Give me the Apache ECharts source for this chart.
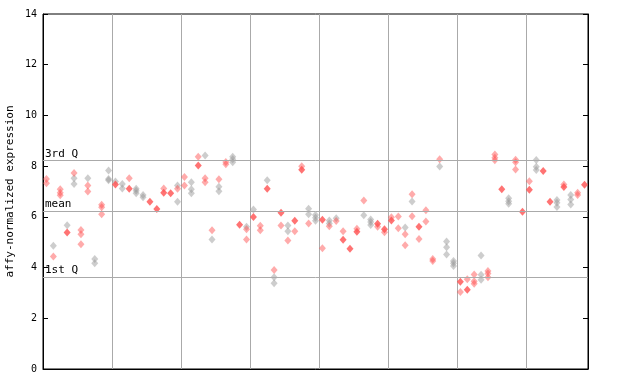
<!DOCTYPE html>
<html><head><meta charset="utf-8">
<script src="https://cdn.jsdelivr.net/npm/echarts@6/dist/echarts.min.js"></script>
<style>html,body{margin:0;padding:0;background:#fff}#c{width:640px;height:384px}</style>
</head><body><div id="c"></div>
<script>
// [sample column index, expression value]
var redPts = [
[0,7.49],[0,7.33],[1,4.44],[2,7.09],[2,6.95],[2,6.85],[4,7.73],[5,5.48],[5,5.31],[5,4.92],
[6,7.24],[6,7.0],[8,6.48],[8,6.38],[8,6.10],[12,7.52],[17,7.12],[19,7.11],[20,7.57],[20,7.24],
[22,8.37],[23,7.52],[23,7.36],[24,5.47],[25,7.48],[26,8.16],[26,8.07],[29,5.51],[29,5.11],[31,5.65],
[31,5.47],[33,3.90],[34,5.66],[35,5.07],[36,5.43],[37,8.0],[38,5.74],[40,4.76],[41,5.63],[42,5.84],
[43,5.43],[45,5.53],[46,6.65],[48,5.61],[49,5.39],[50,5.98],[51,6.01],[51,5.55],[52,5.31],[52,4.88],
[53,6.89],[53,6.02],[54,5.13],[55,6.26],[55,5.82],[56,4.34],[56,4.26],[57,8.27],[60,3.04],[61,3.54],
[62,3.73],[62,3.46],[62,3.36],[64,3.86],[64,3.77],[64,3.62],[65,8.46],[65,8.33],[65,8.23],[68,8.25],
[68,8.15],[68,7.87],[70,7.40],[75,7.28],[77,6.95],[77,6.86]
];
var redSolidPts = [
[3,5.38],[10,7.28],[12,7.11],[15,6.60],[16,6.31],[17,6.95],[18,6.93],[22,8.03],[28,5.69],[30,5.99],
[32,7.11],[34,6.16],[36,5.85],[37,7.86],[40,5.89],[43,5.10],[44,4.74],[45,5.41],[48,5.73],[49,5.51],
[50,5.86],[54,5.61],[60,3.44],[61,3.13],[66,7.09],[69,6.20],[70,7.07],[72,7.81],[73,6.60],[75,7.18],
[78,7.27]
];
var grayPts = [
[1,4.86],[3,5.67],[4,7.52],[4,7.30],[6,7.52],[7,4.34],[7,4.17],[9,7.83],[9,7.49],[9,7.44],
[10,7.39],[11,7.30],[11,7.12],[13,7.11],[13,7.03],[13,6.93],[14,6.86],[14,6.77],[19,7.24],[19,6.60],
[21,7.36],[21,7.09],[21,6.93],[23,8.42],[24,5.11],[25,7.19],[25,7.01],[27,8.37],[27,8.27],[27,8.15],
[29,5.61],[30,6.29],[32,7.44],[33,3.62],[33,3.38],[35,5.66],[35,5.43],[38,6.32],[38,6.10],[39,6.07],
[39,5.96],[39,5.85],[41,5.86],[41,5.74],[42,5.95],[46,6.06],[47,5.90],[47,5.80],[47,5.68],[52,5.58],
[53,6.61],[57,7.99],[58,5.03],[58,4.80],[58,4.52],[59,4.26],[59,4.17],[59,4.06],[63,4.48],[63,3.72],
[63,3.52],[67,6.73],[67,6.62],[67,6.52],[71,8.24],[71,7.98],[71,7.85],[74,6.66],[74,6.56],[74,6.39],
[76,6.86],[76,6.68],[76,6.49]
];
var quartiles = [{name:'3rd Q', value:8.22},{name:'mean', value:6.23},{name:'1st Q', value:3.63}];
var yTicks = [0,2,4,6,8,10,12,14];
var nColumns = 79;

function pos(arr){ return arr.map(function(p){ return [p[0]+0.5, p[1]]; }); }
var mono = 'DejaVu Sans Mono';
var chart = echarts.init(document.getElementById('c'), null, {renderer:'canvas'});
chart.setOption({
  animation:false,
  grid:{left:43, top:14, right:52, bottom:15, containLabel:false, outerBoundsMode:'none',
    show:true, borderColor:'#000', borderWidth:1, backgroundColor:'transparent'},
  xAxis:{type:'value', min:0, max:nColumns, interval:10,
    axisLine:{show:true, lineStyle:{color:'#000'}}, axisTick:{show:false}, axisLabel:{show:false},
    splitLine:{show:true, showMinLine:false, showMaxLine:false, lineStyle:{color:'#aaaaaa', width:1}}},
  yAxis:[{type:'value', min:yTicks[0], max:yTicks[yTicks.length-1], interval:2,
    name:'affy-normalized expression', nameLocation:'middle', nameGap:27, nameMoveOverlap:false,
    nameTextStyle:{fontFamily:mono, fontSize:11, color:'#000'},
    axisLine:{show:true, lineStyle:{color:'#000'}},
    axisTick:{show:true, inside:true, length:5, lineStyle:{color:'#000'}},
    axisLabel:{fontFamily:mono, fontSize:10, color:'#000', margin:6},
    splitLine:{show:false}},
   {type:'value', position:'right', min:yTicks[0], max:yTicks[yTicks.length-1], interval:2,
    axisLine:{show:true, lineStyle:{color:'#000'}},
    axisTick:{show:true, inside:true, length:5, lineStyle:{color:'#000'}},
    axisLabel:{show:false}, splitLine:{show:false}}],
  series:[
    {type:'scatter', data:pos(grayPts), symbol:'diamond', symbolSize:[7,8],
     itemStyle:{color:'rgba(150,150,150,0.6)'}, z:2,
     markLine:{silent:true, symbol:'none', animation:false,
       lineStyle:{color:'#aaaaaa', width:1, type:'solid'},
       label:{show:true, position:'insideStartTop', formatter:'{b}', fontFamily:mono, fontSize:11, color:'#000', distance:[2,1]},
       emphasis:{disabled:true},
       data:quartiles.map(function(q){ return {name:q.name, yAxis:q.value}; })}},
    {type:'scatter', data:pos(redPts), symbol:'diamond', symbolSize:[7,8],
     itemStyle:{color:'rgba(255,80,80,0.6)'}, z:3},
    {type:'scatter', data:pos(redSolidPts), symbol:'diamond', symbolSize:[7,8],
     itemStyle:{color:'#ff5050'}, z:4}
  ]
});
</script></body></html>
